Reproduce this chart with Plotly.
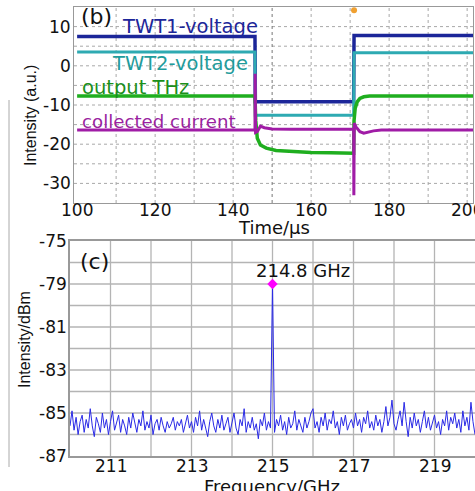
import plotly.graph_objects as go

# ---------------- top panel (b): oscilloscope traces ----------------
t_twt1 = [100, 145.6, 145.7, 170.9, 171.0, 201.5]
v_twt1 = [7.5, 7.5, -9.2, -9.2, 7.7, 7.7]

t_twt2 = [100, 145.6, 145.7, 170.9, 171.0, 201.5]
v_twt2 = [3.5, 3.5, -12.6, -12.6, 3.3, 3.3]

t_thz = [100, 145.6, 145.8, 146.2, 147.0, 148.5, 151.0, 155.0, 160.0, 165.0, 170.9,
         171.0, 171.3, 171.8, 172.5, 173.5, 175.0, 180.0, 201.5]
v_thz = [-7.7, -7.7, -14.0, -18.5, -20.2, -21.0, -21.6, -21.9, -22.1, -22.2, -22.3,
         -14.0, -10.8, -9.2, -8.3, -7.9, -7.7, -7.7, -7.7]

t_cur = [100, 145.6, 145.65, 145.75, 146.2, 147.0, 148.0, 150.0, 155.0, 170.9,
         170.95, 171.05, 171.5, 172.5, 173.5, 174.5, 176.0, 178.0, 201.5]
v_cur = [-16.4, -16.4, -2.0, -17.0, -16.8, -15.4, -15.8, -16.1, -16.2, -16.2,
         -33.0, -14.6, -15.6, -16.8, -17.2, -17.0, -16.6, -16.4, -16.4]

trigger_t = [171.0]
trigger_v = [14.2]

# ---------------- bottom panel (c): spectrum ----------------
spec_start = 210.0
spec_step = 0.05
spec_vals = [
    -85.6, -84.9, -85.8, -85.2, -86.0, -85.4, -85.1, -85.9, -85.3, -85.7, -84.8, -85.6, -86.1, -85.2, -85.5, -85.9, -85.0, -85.7, -85.3, -86.0,
    -85.4, -84.9, -85.8, -85.5, -85.1, -85.9, -85.3, -85.6, -86.0, -85.2, -85.7, -85.0, -85.5, -85.9, -85.3, -85.6, -84.9, -85.8, -85.4, -85.7,
    -85.1, -86.0, -85.5, -85.3, -85.8, -85.2, -85.6, -85.9, -85.4, -85.7, -85.5, -85.2, -85.8, -85.4, -85.6, -85.3, -85.9, -85.5, -85.1, -85.7,
    -85.4, -85.9, -85.2, -85.6, -84.9, -85.8, -85.3, -85.7, -86.1, -85.4, -85.0, -85.6, -85.9, -85.3, -85.7, -85.1, -85.8, -85.5, -85.2, -85.9,
    -85.5, -85.0, -85.7, -86.0, -85.3, -85.6, -84.8, -85.9, -85.4, -85.7, -85.2, -85.8, -85.5, -86.2, -85.3, -85.6, -85.0, -85.8, -85.4, -85.7,
    -79.0, -85.9, -85.3, -85.6, -85.1, -85.8, -85.4, -86.0, -85.2, -85.7, -85.5, -84.9, -85.8, -85.3, -85.6, -85.9, -85.2, -85.7, -85.4, -85.0,
    -84.8, -85.7, -85.4, -85.9, -85.2, -85.6, -85.0, -85.8, -85.3, -85.5, -84.9, -85.7, -85.4, -86.0, -85.2, -85.6, -85.1, -85.8, -85.5, -85.3,
    -85.7, -85.0, -85.6, -85.3, -85.9, -85.2, -85.5, -84.9, -85.7, -85.4, -85.8, -85.1, -85.6, -85.3, -85.9, -85.4, -84.7, -85.6, -85.2, -84.4,
    -85.5, -85.8, -85.3, -84.9, -85.6, -84.5, -85.4, -86.1, -85.2, -85.7, -85.0, -85.6, -85.3, -85.9, -85.4, -84.9, -85.7, -85.2, -85.8, -85.5,
    -85.1, -85.7, -85.4, -86.0, -85.3, -85.6, -84.9, -85.8, -85.2, -85.5, -85.0, -85.7, -85.3, -85.9, -84.9, -85.6, -85.2, -85.8, -84.5, -85.4,
    -86.0,
]
spec_freq = [round(spec_start + spec_step * i, 3) for i in range(len(spec_vals))]

peak_freq = [215.0]
peak_val = [-79.0]
peak_label = "214.8 GHz"

top_yticks = [10, 0, -10, -20, -30]
top_xticks = [100, 120, 140, 160, 180, 200]
bot_ytick_vals = [-77, -79, -81, -83, -85, -87]
bot_ytick_text = ["-75", "-79", "-81", "-83", "-85", "-87"]
bot_xticks = [211, 213, 215, 217, 219]

C_TWT1 = "#1c2699"
C_TWT2 = "#2eaab2"
C_THZ = "#1fae1f"
C_CUR = "#a01ca6"
C_SPEC = "#2a2ae6"

W, H = 475, 491
X1 = [74, 473]
Y1 = [7, 203]
X2 = [70, 475]
Y2 = [241, 456]
TOP_XR = [99.2, 201.5]
TOP_YR = [-35, 15]

fig = go.Figure()

fig.add_trace(go.Scatter(x=t_twt1, y=v_twt1, mode="lines", line=dict(color=C_TWT1, width=3.5),
                         xaxis="x", yaxis="y", showlegend=False))
fig.add_trace(go.Scatter(x=t_twt2, y=v_twt2, mode="lines", line=dict(color=C_TWT2, width=3),
                         xaxis="x", yaxis="y", showlegend=False))
fig.add_trace(go.Scatter(x=t_thz, y=v_thz, mode="lines", line=dict(color=C_THZ, width=3.5),
                         xaxis="x", yaxis="y", showlegend=False))
fig.add_trace(go.Scatter(x=t_cur, y=v_cur, mode="lines", line=dict(color=C_CUR, width=3),
                         xaxis="x", yaxis="y", showlegend=False))
fig.add_trace(go.Scatter(x=trigger_t, y=trigger_v, mode="markers",
                         marker=dict(color="#f0a030", size=6), xaxis="x", yaxis="y", showlegend=False))

fig.add_trace(go.Scatter(x=spec_freq, y=spec_vals, mode="lines", line=dict(color=C_SPEC, width=1),
                         xaxis="x2", yaxis="y2", showlegend=False))
fig.add_trace(go.Scatter(x=peak_freq, y=peak_val, mode="markers",
                         marker=dict(color="#ff00ff", size=8, symbol="diamond"),
                         xaxis="x2", yaxis="y2", showlegend=False))

common = dict(showticklabels=False, ticks="", showgrid=False, zeroline=False,
              showline=True, mirror=True, automargin=False)

fig.update_layout(
    width=W, height=H,
    margin=dict(l=0, r=0, t=0, b=0, autoexpand=False),
    paper_bgcolor="white", plot_bgcolor="white",
    xaxis=dict(domain=[X1[0] / W, X1[1] / W], anchor="y", range=TOP_XR,
               tickvals=top_xticks, linecolor="#999", linewidth=1, **common),
    yaxis=dict(domain=[1 - Y1[1] / H, 1 - Y1[0] / H], anchor="x", range=TOP_YR,
               tickvals=top_yticks, linecolor="#999", linewidth=1, **common),
    xaxis2=dict(domain=[X2[0] / W, X2[1] / W], anchor="y2", range=[210, 220],
                tickvals=bot_xticks, linecolor="#999", linewidth=1.5, **common),
    yaxis2=dict(domain=[1 - Y2[1] / H, 1 - Y2[0] / H], anchor="x2", range=[-87, -77],
                tickvals=bot_ytick_vals, linecolor="#999", linewidth=1.5, **common),
)

# tick labels placed on the axes' own scales
TICK_FONT = dict(family="DejaVu Sans", size=17, color="#111")
for v in top_xticks:
    fig.add_annotation(text=str(v), xref="x", yref="paper", x=v, y=1 - 210 / H,
                       xanchor="center", yanchor="middle", showarrow=False, font=TICK_FONT)
for v in top_yticks:
    fig.add_annotation(text=str(v), xref="paper", yref="y", x=73 / W, y=v,
                       xanchor="right", yanchor="middle", showarrow=False, font=TICK_FONT)
for v in bot_xticks:
    fig.add_annotation(text=str(v), xref="x2", yref="paper", x=v, y=1 - 466 / H,
                       xanchor="center", yanchor="middle", showarrow=False, font=TICK_FONT)
for v, t in zip(bot_ytick_vals, bot_ytick_text):
    fig.add_annotation(text=t, xref="paper", yref="y2", x=69 / W, y=v,
                       xanchor="right", yanchor="middle", showarrow=False, font=TICK_FONT)

GRID_TOP = dict(color="#a8a8a8", width=1, dash="dot")
for yv in range(-30, 15, 5):
    fig.add_shape(type="line", xref="x", yref="y", x0=TOP_XR[0], x1=TOP_XR[1], y0=yv, y1=yv,
                  line=GRID_TOP, layer="below")
for xv in range(110, 201, 10):
    fig.add_shape(type="line", xref="x", yref="y", x0=xv, x1=xv, y0=TOP_YR[0], y1=TOP_YR[1],
                  line=GRID_TOP if xv != 150 else dict(color="#777", width=1, dash="dot"),
                  layer="below")

for xv in range(211, 220):
    fig.add_shape(type="line", xref="x2", yref="y2", x0=xv, x1=xv, y0=-87, y1=-77,
                  line=dict(color="#b4b4b4", width=1.3), layer="below")
for yv in range(-86, -77):
    fig.add_shape(type="line", xref="x2", yref="y2", x0=210, x1=220, y0=yv, y1=yv,
                  line=dict(color="#b4b4b4", width=1.3), layer="below")

# left-edge artifact line
fig.add_shape(type="line", xref="paper", yref="paper", x0=9 / W, x1=9 / W,
              y0=1 - 467 / H, y1=1 - 100 / H, line=dict(color="#aaa", width=1))

anns = [
    dict(text="(b)", x=79, y=17, color="#111", size=22),
    dict(text="TWT1-voltage", x=120, y=27, color=C_TWT1, size=19.5),
    dict(text="TWT2-voltage", x=110, y=63, color="#1f9c9c", size=19.5),
    dict(text="output THz", x=80, y=88, color="#1b8f1b", size=19.5),
    dict(text="collected current", x=80, y=122, color="#9a1fa0", size=18.2),
    dict(text="(c)", x=78, y=261, color="#111", size=22),
]
for a in anns:
    fig.add_annotation(text=a["text"], xref="paper", yref="paper",
                       x=a["x"] / W, y=1 - a["y"] / H, xanchor="left", yanchor="middle",
                       showarrow=False, font=dict(family="DejaVu Sans", size=a["size"], color=a["color"]))

# axis titles
fig.add_annotation(text="Time/µs", xref="paper", yref="paper", x=274 / W, y=1 - 227 / H,
                   xanchor="center", yanchor="middle", showarrow=False,
                   font=dict(family="DejaVu Sans", size=18, color="#111"))
fig.add_annotation(text="Frequency/GHz", xref="paper", yref="paper", x=272 / W, y=1 - 474 / H,
                   xanchor="center", yanchor="top", showarrow=False,
                   font=dict(family="DejaVu Sans", size=18, color="#111"))
fig.add_annotation(text="Intensity (a.u.)", xref="paper", yref="paper", x=31 / W, y=1 - 116 / H,
                   xanchor="center", yanchor="middle", showarrow=False, textangle=-90,
                   font=dict(family="Liberation Sans", size=16, color="#111"))
fig.add_annotation(text="Intensity/dBm", xref="paper", yref="paper", x=24 / W, y=1 - 340 / H,
                   xanchor="center", yanchor="middle", showarrow=False, textangle=-90,
                   font=dict(family="Liberation Sans", size=16, color="#111"))

fig.add_annotation(text=peak_label, xref="x2", yref="y2", x=peak_freq[0] + 0.75, y=peak_val[0],
                   yshift=1, xanchor="center", yanchor="bottom", showarrow=False,
                   font=dict(family="DejaVu Sans", size=18, color="#111"))

fig.write_html("out.html")
